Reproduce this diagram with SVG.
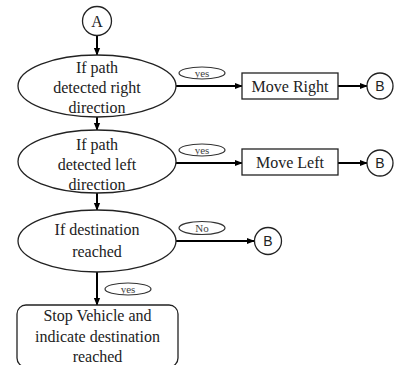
<svg xmlns="http://www.w3.org/2000/svg" width="394" height="365" viewBox="0 0 394 365">
<defs>
<marker id="ah" viewBox="0 0 10 10" refX="9" refY="5" markerWidth="4" markerHeight="4" orient="auto" markerUnits="strokeWidth">
<path d="M0,1 L10,5 L0,9 z" fill="#000"/>
</marker>
<style>
.shape{fill:#fff;stroke:#222;stroke-width:1.3}
.lbl{fill:#fff;stroke:#333;stroke-width:1.2}
.t{font-family:"Liberation Serif","Times New Roman",serif;font-size:16px;fill:#222;text-anchor:middle}
.s{font-family:"Liberation Serif","Times New Roman",serif;font-size:11px;fill:#444;text-anchor:middle}
.b{font-family:"Liberation Sans",Arial,sans-serif;font-size:14px;fill:#222;text-anchor:middle}
.c{stroke:#000;stroke-width:2;fill:none;marker-end:url(#ah)}
</style>
</defs>
<rect width="394" height="365" fill="#fff"/>
<g id="connectors">
<line class="c" x1="97" y1="36" x2="97" y2="55"/>
<line class="c" x1="97" y1="117" x2="97" y2="130"/>
<line class="c" x1="97" y1="193" x2="97" y2="210"/>
<line class="c" x1="97" y1="272" x2="97" y2="305"/>
<line class="c" x1="176" y1="86" x2="242" y2="86"/>
<line class="c" x1="338" y1="86" x2="367" y2="86"/>
<line class="c" x1="176" y1="163" x2="242" y2="163"/>
<line class="c" x1="338" y1="163" x2="367" y2="163"/>
<line class="c" x1="176" y1="241" x2="254" y2="241"/>
<g id="label-yes1"><ellipse class="lbl" cx="202" cy="73" rx="23" ry="6"/><text class="s" x="202" y="76.5">yes</text></g>
<g id="label-yes2"><ellipse class="lbl" cx="202" cy="150" rx="23" ry="6"/><text class="s" x="202" y="153.5">yes</text></g>
<g id="label-no"><ellipse class="lbl" cx="202" cy="228" rx="23" ry="6.5"/><text class="s" x="202" y="231.5">No</text></g>
<g id="label-yes3"><ellipse class="lbl" cx="128" cy="289" rx="23" ry="6"/><text class="s" x="128" y="292.5">yes</text></g>
</g>
<g id="nodeA"><circle class="shape" cx="97" cy="21" r="14.5"/><text class="t" x="97" y="26.5">A</text></g>
<g id="dec1"><ellipse class="shape" cx="97" cy="86" rx="79" ry="31"/>
<text class="t" x="97" y="73">If path</text><text class="t" x="97" y="93">detected right</text><text class="t" x="97" y="113">direction</text></g>
<g id="dec2"><ellipse class="shape" cx="97" cy="161.5" rx="79" ry="31.5"/>
<text class="t" x="97" y="150">If path</text><text class="t" x="97" y="170">detected left</text><text class="t" x="97" y="190">direction</text></g>
<g id="dec3"><ellipse class="shape" cx="97" cy="241" rx="79" ry="31"/>
<text class="t" x="97" y="235">If destination</text><text class="t" x="97" y="257">reached</text></g>
<g id="stop"><rect class="shape" x="17" y="305" width="161" height="62" rx="9"/>
<text class="t" x="97.5" y="321">Stop Vehicle and</text><text class="t" x="97.5" y="342">indicate destination</text><text class="t" x="97.5" y="362">reached</text></g>
<g id="moveRight"><rect class="shape" x="242" y="73" width="96" height="26"/><text class="t" x="290" y="91.5">Move Right</text></g>
<g id="moveLeft"><rect class="shape" x="242" y="149" width="96" height="26"/><text class="t" x="290" y="168">Move Left</text></g>
<g id="nodeB1"><circle class="shape" cx="380" cy="86" r="13"/><text class="b" x="380" y="91">B</text></g>
<g id="nodeB2"><circle class="shape" cx="380" cy="163" r="13"/><text class="b" x="380" y="168">B</text></g>
<g id="nodeB3"><circle class="shape" cx="268" cy="241" r="13.5"/><text class="b" x="268" y="246">B</text></g>
</svg>
